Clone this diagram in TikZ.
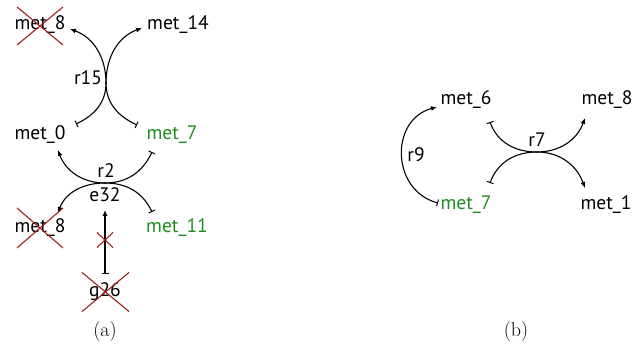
\documentclass[tikz,border=0pt]{standalone}
\usepackage{fontspec}
\newfontfamily\labfont{PT Sans}
\usetikzlibrary{arrows.meta,calc}
\definecolor{xred}{RGB}{160,30,30}
\definecolor{mgreen}{RGB}{30,140,30}
\begin{document}
\begin{tikzpicture}[x=1pt,y=1pt,
  lab/.style={font=\labfont\fontsize{19.5}{22}\selectfont,inner sep=0pt,anchor=base},
  glab/.style={lab,text=mgreen},
  captext/.style={font=\fontsize{20}{24}\selectfont,inner sep=0pt,anchor=base},
  conn/.style={line width=1.1pt,{Bar[width=7pt,line width=1pt]}-{Latex[length=6pt,width=5pt]}},
  xmark/.style={draw=xred,line width=1.1pt}]
\useasboundingbox (0,0) rectangle (634,352);
% ---------- panel (a)
\node[lab] (met8a) at (40,322) {met\_8};
\node[lab] (met14) at (178,322) {met\_14};
\node[lab] (met0) at (40,212) {met\_0};
\node[glab] (met7a) at (172,212) {met\_7};
\node[lab] (met8b) at (40,119) {met\_8};
\node[glab] (met11) at (177,119) {met\_11};
\node[lab] (g26) at (105,55) {g26};
\node[lab] (e32) at (105,150) {e32};
\node[lab] (r2) at (106,174) {r2};
\node[lab] (r15) at (88,267) {r15};
\node[captext] (capa) at (105,15) {(a)};
\coordinate (c15) at (106,269);
\coordinate (c2) at (105,169);
% r15
\draw[conn] ($(met0.base)+(36,16)$) to[out=25,in=-90] (c15) to[out=90,in=-20] ($(met8a.base)+(30,1)$);
\draw[conn] ($(met7a.base)+(-35,15)$) to[out=155,in=-90] (c15) to[out=90,in=200] ($(met14.base)+(-36,2)$);
% r2
\draw[conn] ($(met7a.base)+(-20,-12)$) to[out=245,in=0] (c2) to[out=180,in=-70] ($(met0.base)+(18,-10)$);
\draw[conn] ($(met11.base)+(-25,21)$) to[out=115,in=0] (c2) to[out=180,in=70] ($(met8b.base)+(18,20)$);
% e32
\draw[conn] ($(g26.base)+(0,23)$) -- ($(e32.base)+(0,-8)$);
% red crosses
\draw[xmark] (17,345) -- (63,307) (17,307) -- (63,345);
\draw[xmark] (17,144) -- (63,104) (17,104) -- (63,144);
\draw[xmark] (82,79.5) -- (129,40.5) (82,40.5) -- (129,79.5);
\draw[xmark] (97,119.5) -- (113,104.5) (97,104.5) -- (113,119.5);
% ---------- panel (b)
\node[lab] (met6) at (466,247) {met\_6};
\node[lab] (met8c) at (607,247) {met\_8};
\node[glab] (met7b) at (466,142) {met\_7};
\node[lab] (met1) at (606,142) {met\_1};
\node[lab] (r9) at (416,190) {r9};
\node[lab] (r7) at (537,205) {r7};
\node[captext] (capb) at (516,15) {(b)};
\coordinate (c7) at (537,200);
\draw[conn] ($(met7b.base)+(-28,7)$) to[out=165,in=195,looseness=1.3] ($(met6.base)+(-29,-2)$);
\draw[conn] ($(met6.base)+(24,-17)$) to[out=-70,in=180] (c7) to[out=0,in=-110] ($(met8c.base)+(-22,-13)$);
\draw[conn] ($(met7b.base)+(24,27)$) to[out=70,in=180] (c7) to[out=0,in=110] ($(met1.base)+(-21,22)$);
\end{tikzpicture}
\end{document}
